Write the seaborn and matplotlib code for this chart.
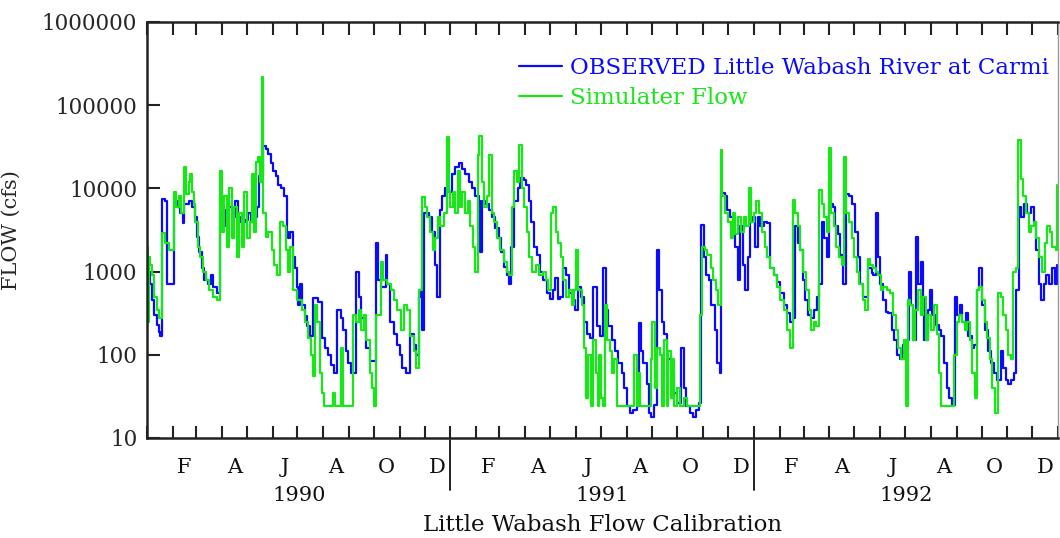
import matplotlib
matplotlib.use("Agg")
import matplotlib.pyplot as plt
import matplotlib.ticker as mticker
import numpy as np
import pandas as pd
import seaborn as sns

# ---------------- data (day counted from 1 Jan 1990, flow in cfs) ----------------
OBS_LABEL = "OBSERVED Little Wabash River at Carmi"
SIM_LABEL = "Simulater Flow"

obs_day = [0, 2, 4, 6, 9, 12, 14, 16, 18, 22, 24, 32, 36, 40, 43, 45, 50, 54, 58, 60,
           63, 66, 69, 73, 77, 80, 84, 88, 92, 95, 98, 102, 106, 109, 112, 118, 121, 125, 129, 132,
           135, 139, 143, 146, 149, 152, 155, 158, 161, 165, 168, 170, 172, 176, 178, 180, 182, 184, 187, 190,
           193, 196, 200, 206, 210, 214, 218, 221, 225, 229, 233, 236, 240, 242, 246, 252, 255, 258, 261, 264,
           268, 275, 278, 282, 287, 289, 292, 297, 301, 304, 307, 311, 317, 321, 324, 327, 329, 331, 333, 339,
           343, 346, 349, 352, 355, 359, 363, 367, 371, 375, 379, 383, 387, 391, 395, 399, 401, 403, 407, 411,
           415, 419, 423, 426, 429, 433, 436, 438, 442, 446, 449, 453, 456, 459, 462, 465, 469, 473, 477, 481,
           485, 489, 491, 494, 497, 500, 504, 508, 512, 515, 518, 522, 526, 529, 533, 537, 541, 545, 549, 552,
           555, 559, 563, 567, 571, 574, 577, 581, 585, 589, 592, 594, 597, 601, 604, 606, 610, 614, 616, 619,
           622, 626, 630, 634, 638, 642, 646, 649, 653, 657, 661, 664, 666, 670, 673, 676, 679, 683, 686, 689,
           691, 695, 698, 701, 705, 708, 711, 714, 717, 720, 723, 725, 729, 732, 735, 738, 742, 746, 750, 754,
           758, 762, 766, 770, 774, 777, 780, 783, 786, 789, 792, 795, 799, 803, 806, 809, 812, 815, 818, 821,
           825, 828, 831, 834, 837, 841, 844, 848, 852, 855, 858, 862, 865, 868, 872, 874, 877, 880, 882, 886,
           889, 892, 896, 899, 902, 906, 910, 914, 917, 919, 922, 925, 927, 931, 933, 935, 939, 942, 945, 949,
           953, 955, 959, 962, 965, 968, 972, 975, 978, 981, 985, 988, 992, 995, 998, 1001, 1004, 1008, 1012, 1015,
           1019, 1023, 1027, 1030, 1033, 1036, 1040, 1043, 1046, 1049, 1052, 1055, 1059, 1063, 1067, 1070, 1073, 1076, 1079, 1082,
           1085, 1089, 1092, 1095]
obs_cfs = [900, 1000, 700, 450, 300, 230, 190, 170, 7500, 7000, 700, 7000, 6000, 5000, 3800, 6500, 7000, 6000, 4500, 2600,
           1700, 1100, 800, 700, 900, 650, 560, 5000, 5500, 3500, 6000, 4500, 7000, 4500, 4000, 4200, 5000, 4000, 4500, 6000,
           14000, 32000, 30000, 26000, 20000, 16000, 14000, 11000, 10000, 8000, 3000, 2500, 3000, 1500, 1100, 650, 400, 700, 400, 290,
           220, 170, 480, 430, 160, 120, 100, 75, 60, 350, 280, 200, 110, 80, 60, 1000, 500, 280, 200, 120,
           85, 2200, 800, 650, 1600, 700, 250, 180, 130, 100, 70, 60, 180, 130, 100, 500, 600, 200, 5000, 4500,
           3000, 1200, 500, 5500, 8000, 10000, 9000, 15000, 18000, 20000, 17000, 15000, 12000, 10000, 8000, 7000, 1700, 7000, 6500, 5500,
           4500, 3300, 2500, 1700, 1150, 900, 700, 2000, 7000, 10000, 13500, 12500, 11000, 7000, 4000, 2000, 1600, 1000, 800, 550,
           470, 600, 840, 470, 500, 1100, 900, 550, 450, 350, 650, 500, 250, 180, 160, 650, 220, 170, 1100, 350,
           220, 150, 110, 80, 60, 40, 24, 20, 22, 24, 240, 110, 80, 45, 20, 18, 25, 1800, 600, 250,
           180, 90, 60, 35, 26, 120, 40, 24, 20, 18, 22, 26, 3600, 1500, 900, 800, 400, 200, 80, 60,
           8700, 8000, 5500, 4500, 4500, 2000, 800, 3500, 1200, 600, 1500, 4000, 4500, 2000, 4500, 3500, 4000, 3800, 1100, 900,
           750, 550, 400, 320, 250, 280, 3500, 2200, 1800, 800, 450, 300, 280, 350, 500, 700, 4000, 2500, 1500, 6500,
           6000, 3500, 2800, 1600, 700, 8500, 8000, 6500, 3000, 1500, 700, 500, 500, 1100, 950, 900, 5000, 1500, 700, 450,
           330, 320, 200, 150, 100, 90, 130, 150, 1000, 400, 150, 2600, 700, 1300, 500, 150, 350, 600, 300, 230,
           200, 170, 80, 40, 30, 25, 500, 300, 400, 250, 320, 170, 120, 130, 600, 1100, 400, 200, 110, 80,
           60, 50, 110, 70, 50, 45, 50, 60, 600, 6000, 4500, 6500, 5000, 6000, 4000, 1800, 700, 450, 700, 900,
           700, 1100, 700, 1200]

sim_day = [0, 1, 2, 4, 6, 9, 12, 15, 18, 22, 26, 32, 35, 38, 41, 45, 47, 50, 52, 54,
           56, 58, 61, 64, 67, 71, 75, 80, 84, 88, 90, 93, 96, 99, 102, 105, 108, 111, 114, 117,
           120, 124, 126, 129, 131, 134, 136, 138, 140, 143, 146, 150, 153, 156, 160, 164, 167, 170, 172, 176,
           180, 186, 190, 194, 197, 200, 202, 205, 208, 211, 213, 224, 226, 233, 236, 248, 252, 255, 258, 261,
           264, 268, 271, 273, 276, 281, 284, 289, 293, 297, 301, 305, 309, 313, 317, 321, 324, 327, 331, 334,
           337, 341, 344, 347, 350, 353, 357, 361, 363, 365, 368, 371, 374, 376, 379, 383, 386, 389, 392, 395,
           398, 400, 403, 406, 409, 412, 415, 418, 421, 425, 429, 433, 436, 439, 442, 445, 448, 451, 454, 457,
           460, 463, 468, 472, 476, 480, 483, 486, 489, 492, 495, 498, 501, 504, 508, 511, 514, 516, 519, 523,
           526, 528, 531, 534, 537, 540, 542, 544, 546, 549, 551, 553, 557, 560, 562, 565, 586, 589, 591, 593,
           606, 608, 611, 614, 617, 619, 622, 625, 627, 630, 632, 634, 638, 641, 646, 650, 665, 668, 671, 674,
           678, 681, 684, 687, 690, 692, 695, 699, 702, 705, 708, 711, 715, 718, 721, 724, 727, 730, 733, 736,
           740, 743, 746, 750, 754, 758, 762, 766, 770, 774, 777, 780, 783, 786, 789, 793, 796, 799, 802, 805,
           809, 812, 815, 818, 821, 823, 826, 829, 833, 836, 839, 841, 845, 848, 851, 854, 857, 861, 864, 867,
           870, 874, 877, 880, 883, 886, 890, 894, 898, 901, 904, 907, 911, 913, 915, 918, 921, 924, 927, 931,
           934, 937, 940, 943, 947, 950, 953, 955, 971, 974, 977, 980, 984, 987, 990, 993, 996, 998, 1001, 1004,
           1008, 1011, 1014, 1017, 1020, 1024, 1027, 1030, 1033, 1036, 1040, 1042, 1045, 1048, 1051, 1054, 1057, 1061, 1064, 1067,
           1070, 1073, 1077, 1080, 1083, 1086, 1089, 1093, 1095]
sim_cfs = [2000, 250, 1500, 1200, 900, 500, 350, 280, 2900, 2200, 1800, 9000, 6000, 8000, 5000, 18000, 8500, 12000, 15000, 9000,
           6500, 4000, 2000, 1500, 1000, 800, 600, 500, 450, 16000, 3000, 8000, 2000, 10000, 2500, 6000, 1500, 5000, 2000, 9000,
           2500, 4000, 15000, 3000, 21000, 24000, 12000, 220000, 5000, 2600, 3000, 1800, 1200, 900, 4000, 3500, 1800, 1000, 2000, 600,
           450, 350, 250, 160, 100, 55, 400, 250, 60, 35, 24, 35, 24, 120, 24, 300, 250, 350, 200, 300,
           150, 60, 40, 24, 300, 1300, 800, 700, 600, 450, 350, 200, 400, 350, 170, 110, 70, 600, 7800, 6000,
           4500, 3000, 1800, 2500, 4500, 3500, 5000, 41000, 9000, 6000, 9000, 5000, 16000, 6000, 9000, 5000, 7000, 3500, 2000, 1000,
           25000, 43000, 12000, 6000, 8000, 25000, 5000, 4000, 2500, 1800, 1300, 1000, 900, 6000, 16000, 12000, 33000, 10000, 6000, 3000,
           1500, 1000, 1200, 900, 1000, 800, 600, 5000, 6000, 3000, 2200, 1500, 800, 500, 600, 400, 600, 1800, 600, 400,
           120, 30, 100, 24, 150, 60, 24, 100, 30, 24, 400, 150, 110, 60, 90, 24, 100, 24, 60, 24,
           90, 250, 40, 120, 100, 24, 150, 24, 110, 30, 90, 24, 40, 24, 30, 24, 300, 2000, 1800, 1600,
           1100, 800, 600, 400, 29000, 8000, 5000, 4000, 2500, 5000, 2800, 4500, 3000, 4500, 3500, 10000, 4000, 5000, 7000, 5000,
           3000, 2000, 1500, 1100, 900, 650, 450, 350, 200, 120, 7200, 5000, 3500, 1800, 1000, 600, 350, 200, 250, 220,
           9500, 6500, 4500, 3000, 31000, 5000, 3500, 2000, 1500, 1200, 24000, 5000, 4000, 2500, 1500, 1000, 700, 450, 350, 1400,
           1200, 1100, 1000, 900, 600, 650, 600, 550, 300, 200, 120, 90, 150, 24, 450, 400, 150, 350, 600, 300,
           500, 150, 300, 200, 400, 180, 60, 24, 100, 250, 300, 250, 200, 250, 150, 60, 30, 600, 650, 450,
           250, 160, 90, 40, 20, 550, 500, 300, 200, 100, 90, 1000, 1100, 38000, 13000, 8000, 5000, 3000, 3500, 4000,
           2500, 1500, 1000, 2200, 3500, 3000, 2000, 1800, 11000]

y_ticks = [10, 100, 1000, 10000, 100000, 1000000]
y_tick_labels = ["10", "100", "1000", "10000", "100000", "1000000"]
month_letters = {2: "F", 4: "A", 6: "J", 8: "A", 10: "O", 12: "D"}
years = ["1990", "1991", "1992"]

# ---------------- figure ----------------
sns.set_theme(style="white")
plt.rcParams["font.family"] = ["DejaVu Serif"]
FS = 15
FS_BIG = 16.5

fig = plt.figure(figsize=(10.6, 5.38), dpi=100)
ax = fig.add_axes([147 / 1060, 1 - 438 / 538, 911 / 1060, 416 / 538])

df = pd.concat([
    pd.DataFrame({"day": obs_day, "cfs": obs_cfs, "series": OBS_LABEL}),
    pd.DataFrame({"day": sim_day, "cfs": sim_cfs, "series": SIM_LABEL}),
], ignore_index=True)

palette = {OBS_LABEL: "#0a0aff", SIM_LABEL: "#17e617"}
sns.lineplot(data=df, x="day", y="cfs", hue="series", hue_order=[OBS_LABEL, SIM_LABEL],
             palette=palette, estimator=None, drawstyle="steps-post", linewidth=1.6,
             legend=False, ax=ax)

ax.set_yscale("log")
start = pd.Timestamp("1990-01-01")
month_starts = pd.date_range("1990-01-01", "1993-01-01", freq="MS")
month_days = np.array([(d - start).days for d in month_starts])
ax.set_xlim(month_days[0], month_days[-1])
ax.set_ylim(y_ticks[0], y_ticks[-1])

ax.yaxis.set_major_locator(mticker.FixedLocator(y_ticks))
ax.yaxis.set_major_formatter(mticker.FixedFormatter(y_tick_labels))
ax.yaxis.set_minor_locator(mticker.NullLocator())
ax.set_xticks(month_days)
ax.set_xticklabels([])
ax.xaxis.set_minor_locator(mticker.NullLocator())
ax.tick_params(axis="x", which="major", direction="in", length=9, width=1.5,
               top=True, bottom=True, color="#222222")
ax.tick_params(axis="y", which="major", direction="in", length=9, width=1.5,
               left=True, right=False, labelsize=15.5, pad=7, color="#222222")
ax.set_xlabel("")
ax.set_ylabel("FLOW (cfs)", fontsize=FS)
ax.yaxis.set_label_coords(-0.139, 0.5)

for side in ["left", "bottom", "top"]:
    ax.spines[side].set_color("#222222")
    ax.spines[side].set_linewidth(1.8)
ax.spines["right"].set_color("#999999")
ax.spines["right"].set_linewidth(1.0)

trans = ax.get_xaxis_transform()
for i, d in enumerate(month_starts[:-1]):
    if d.month in month_letters:
        mid = (month_days[i] + month_days[i + 1]) / 2
        ax.text(mid, -0.072, month_letters[d.month], transform=trans,
                ha="center", va="center", fontsize=FS, color="#111111")

year_starts = [i for i, d in enumerate(month_starts) if d.month == 1]
for k, yr in enumerate(years):
    a = month_days[year_starts[k]]
    b = month_days[year_starts[k + 1]]
    ax.text((a + b) / 2, -0.139, yr, transform=trans, ha="center", va="center",
            fontsize=FS, color="#111111")
    if k > 0:
        ax.plot([a, a], [-0.005, -0.125], transform=trans, color="#111111",
                lw=1.3, clip_on=False)

ax.text(0.5, -0.21, "Little Wabash Flow Calibration", transform=ax.transAxes,
        ha="center", va="center", fontsize=FS_BIG, color="#111111")

ax.legend(handles=ax.get_lines()[:2], labels=[OBS_LABEL, SIM_LABEL], loc="upper right",
          bbox_to_anchor=(1.0, 0.9375), frameon=False, fontsize=FS_BIG, handlelength=1.88,
          handletextpad=0.35, labelspacing=0.36, borderaxespad=0.0, labelcolor="linecolor")

fig.savefig("out.png", dpi=100)
